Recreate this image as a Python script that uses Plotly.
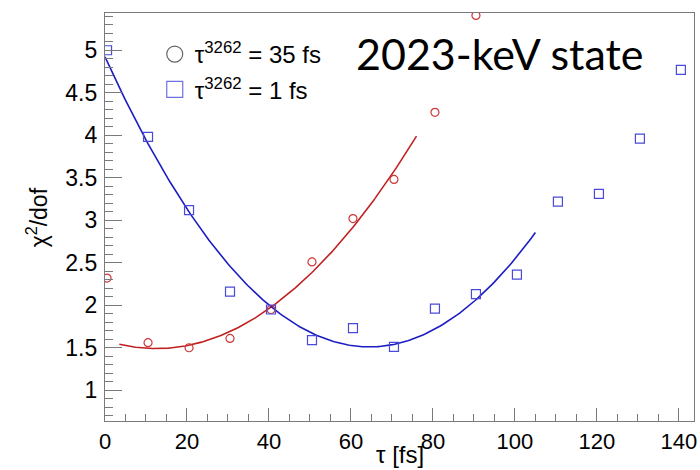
import numpy as np
import plotly.graph_objects as go

# ---- data ----
tau_red = [0.5, 10.5, 20.5, 30.5, 40.5, 50.5, 60.5, 70.5, 80.5, 90.5]
chi2_red = [2.32, 1.56, 1.50, 1.61, 1.95, 2.51, 3.02, 3.48, 4.27, 5.41]

tau_blue = [0.5, 10.5, 20.5, 30.5, 40.5, 50.5, 60.5, 70.5, 80.5, 90.5,
            100.5, 110.5, 120.5, 130.5, 140.5]
chi2_blue = [5.00, 3.98, 3.12, 2.16, 1.95, 1.59, 1.73, 1.51, 1.96, 2.13,
             2.36, 3.22, 3.31, 3.96, 4.77]

# quadratic fit coefficients (c0, c1, c2) and fit ranges
fit_red_coef = [1.587, -0.0155, 0.00062]
fit_red_range = [3.5, 76.0]
fit_blue_coef = [4.9214, -0.10578, 0.00082]
fit_blue_range = [0.0, 105.0]

label_red = "τ<sup>3262</sup> = 35 fs"
label_blue = "τ<sup>3262</sup> = 1 fs"
state_label = "2023-keV state"

RED_M = "#cc3838"
RED_L = "#c02020"
BLUE_M = "#4a4ad8"
BLUE_L = "#1c1cc4"
AX = "#7a7a7a"
FONT = "Liberation Sans, Arial, sans-serif"


def poly(coef, rng):
    xs = np.linspace(rng[0], rng[1], 200)
    ys = coef[0] + coef[1] * xs + coef[2] * xs ** 2
    return xs, ys


fig = go.Figure()

xr, yr = poly(fit_red_coef, fit_red_range)
xb, yb = poly(fit_blue_coef, fit_blue_range)

fig.add_trace(go.Scatter(x=xr, y=yr, mode="lines", line=dict(color=RED_L, width=1.6),
                         showlegend=False, hoverinfo="skip"))
fig.add_trace(go.Scatter(x=xb, y=yb, mode="lines", line=dict(color=BLUE_L, width=1.6),
                         showlegend=False, hoverinfo="skip"))

fig.add_trace(go.Scatter(x=tau_red, y=chi2_red, mode="markers",
                         marker=dict(symbol="circle-open", size=8, color=RED_M,
                                     line=dict(width=1.2, color=RED_M)),
                         showlegend=False))
fig.add_trace(go.Scatter(x=tau_blue, y=chi2_blue, mode="markers",
                         marker=dict(symbol="square-open", size=9, color=BLUE_M,
                                     line=dict(width=1.2, color=BLUE_M)),
                         showlegend=False))

# legend entries
fig.add_trace(go.Scatter(x=[None], y=[None], mode="markers", name=label_red,
                         legendgroup="a",
                         marker=dict(symbol="circle-open", size=16, color="#666666",
                                     line=dict(width=1.2, color="#666666"))))
fig.add_trace(go.Scatter(x=[None], y=[None], mode="markers", name=label_blue,
                         legendgroup="b",
                         marker=dict(symbol="square-open", size=16, color="#7070e0",
                                     line=dict(width=1.2, color="#7070e0"))))

L, R, T, B = 105, 3, 13, 49
W, H = 700, 470
pw, ph = W - L - R, H - T - B

fig.update_layout(
    width=W, height=H,
    margin=dict(l=L, r=R, t=T, b=B, pad=0),
    paper_bgcolor="white", plot_bgcolor="white",
    font=dict(family=FONT, size=22, color="black"),
    showlegend=True,
    legend=dict(x=(155 - L) / pw, y=(H - B - 32) / ph, xanchor="left", yanchor="top",
                bgcolor="rgba(0,0,0,0)", borderwidth=0,
                font=dict(family=FONT, size=24),
                tracegroupgap=1, itemsizing="trace"),
    xaxis=dict(range=[0, 143.7], showgrid=False, zeroline=False,
               showline=True, linecolor=AX, linewidth=1.2, mirror=True,
               ticks="inside", ticklen=13, tickcolor=AX, tickwidth=1.2,
               dtick=20, tick0=0, ticklabeloverflow="allow",
               minor=dict(dtick=5, ticks="inside", ticklen=7, tickcolor=AX, tickwidth=1.2),
               tickfont=dict(family=FONT, size=22, color="black")),
    yaxis=dict(range=[0.638, 5.438], showgrid=False, zeroline=False,
               showline=True, linecolor=AX, linewidth=1.2, mirror=True,
               ticks="inside", ticklen=17, tickcolor=AX, tickwidth=1.2,
               dtick=0.5, tick0=0, ticklabeloverflow="allow", ticklabelstandoff=2,
               minor=dict(dtick=0.1, ticks="inside", ticklen=8, tickcolor=AX, tickwidth=1.2),
               tickfont=dict(family=FONT, size=23, color="black")),
)

fig.add_annotation(text=state_label, xref="paper", yref="paper",
                   x=(502 - L) / pw, y=(H - B - 54) / ph, xanchor="center", yanchor="middle",
                   showarrow=False,
                   font=dict(family="Lato, Carlito, sans-serif", size=43, color="black"))
fig.add_annotation(text="χ<sup>2</sup>/dof", xref="paper", yref="paper",
                   x=(37 - L) / pw, y=0.5, xanchor="center", yanchor="middle",
                   textangle=-90, showarrow=False,
                   font=dict(family=FONT, size=23))
fig.add_annotation(text="τ [fs]", xref="paper", yref="paper",
                   x=(401 - L) / pw, y=-(454 - (H - B)) / ph, xanchor="center", yanchor="middle",
                   showarrow=False,
                   font=dict(family=FONT, size=24))

fig.write_html("out.html")
